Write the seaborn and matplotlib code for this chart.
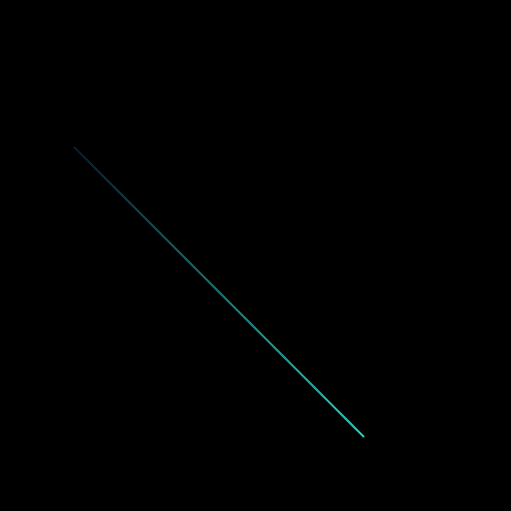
import numpy as np
import matplotlib
matplotlib.use('Agg')
from matplotlib import pyplot as plt
from matplotlib.collections import LineCollection
import seaborn as sns

# Line data: straight descending line, colored by position along it
x_values = [0, 1, 2, 3, 4, 5, 6, 7, 8, 9, 10]
y_values = [10, 9, 8, 7, 6, 5, 4, 3, 2, 1, 0]
start_color = '#0c2030'
end_color = '#40E0D0'


def main():
    sns.set_style('dark', {'axes.facecolor': 'black', 'figure.facecolor': 'black'})
    fig = plt.figure(figsize=(5.11, 5.11), dpi=100)
    ax = fig.add_axes([0, 0, 1, 1])
    ax.set_facecolor('black')

    # densify the polyline so the gradient is smooth
    n = 300
    xs = np.interp(np.linspace(0, len(x_values) - 1, n), np.arange(len(x_values)), x_values)
    ys = np.interp(np.linspace(0, len(y_values) - 1, n), np.arange(len(y_values)), y_values)
    pts = np.column_stack([xs, ys]).reshape(-1, 1, 2)
    segs = np.concatenate([pts[:-1], pts[1:]], axis=1)

    cmap = sns.blend_palette([start_color, end_color], as_cmap=True)
    lc = LineCollection(segs, cmap=cmap, linewidths=1.5, capstyle='butt')
    lc.set_array(np.linspace(0, 1, len(segs)))
    ax.add_collection(lc)

    ax.set_xlim(-2.552, 15.07)
    ax.set_ylim(-2.552, 15.07)
    ax.axis('off')

    fig.savefig('out.png', dpi=100, facecolor='black')
    plt.close(fig)


if __name__ == "__main__":
    main()
